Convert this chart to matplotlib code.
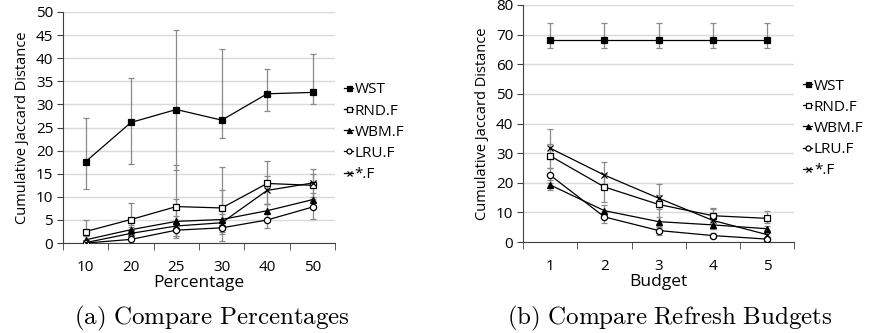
import matplotlib
matplotlib.use('Agg')
import matplotlib.pyplot as plt
import numpy as np

plt.rcParams['font.family'] = 'Open Sans'
plt.rcParams['mathtext.fontset'] = 'cm'

# (a) percentages
pct_labels = ['10', '20', '25', '30', '40', '50']
pct = {
    'WST':   [17.6, 26.1, 28.9, 26.6, 32.3, 32.6],
    'RND.F': [2.5, 5.1, 7.9, 7.6, 12.9, 12.5],
    'WBM.F': [0.7, 2.9, 4.7, 5.1, 7.0, 9.4],
    'LRU.F': [0.0, 0.8, 2.8, 3.3, 5.0, 7.8],
    '*.F':   [0.1, 2.1, 3.7, 4.4, 11.4, 13.0],
}
pct_lo = {
    'WST':   [11.8, 17.2, 15.8, 22.7, 28.5, 30.0],
    'RND.F': [0.2, 2.0, 1.5, 0.5, 8.5, 9.5],
    'WBM.F': [0.0, 2.0, 3.5, 4.0, 5.5, 8.0],
    'LRU.F': [0.0, 0.0, 1.2, 2.5, 3.2, 5.3],
    '*.F':   [0.0, 1.0, 1.5, 2.0, 8.5, 10.0],
}
pct_hi = {
    'WST':   [27.0, 35.8, 46.0, 42.1, 37.6, 40.9],
    'RND.F': [5.1, 8.6, 17.0, 16.4, 17.7, 16.0],
    'WBM.F': [1.5, 4.0, 5.8, 6.2, 8.5, 10.8],
    'LRU.F': [0.3, 1.8, 4.0, 4.5, 6.5, 9.0],
    '*.F':   [0.5, 3.5, 9.5, 11.5, 14.5, 15.0],
}

# (b) refresh budgets
bud_labels = ['1', '2', '3', '4', '5']
bud = {
    'WST':   [68.3, 68.3, 68.3, 68.3, 68.3],
    'RND.F': [29.1, 18.6, 12.7, 8.9, 8.0],
    'WBM.F': [19.3, 10.6, 6.9, 5.8, 4.5],
    'LRU.F': [22.6, 8.5, 3.9, 2.2, 1.0],
    '*.F':   [31.7, 22.6, 14.8, 7.3, 2.5],
}
bud_lo = {
    'WST':   [65.5, 65.5, 65.5, 65.5, 65.5],
    'RND.F': [25.0, 13.5, 3.0, 7.0, 6.5],
    'WBM.F': [17.5, 9.0, 5.5, 4.5, 3.5],
    'LRU.F': [20.0, 6.5, 2.5, 1.5, 0.5],
    '*.F':   [28.0, 18.0, 11.0, 4.5, 1.5],
}
bud_hi = {
    'WST':   [74.0, 74.0, 74.0, 74.0, 74.0],
    'RND.F': [33.0, 23.0, 16.0, 11.0, 10.5],
    'WBM.F': [21.0, 12.5, 8.5, 7.0, 5.5],
    'LRU.F': [25.0, 10.0, 5.0, 3.0, 1.5],
    '*.F':   [38.0, 27.0, 19.6, 11.5, 4.0],
}

styles = {
    'WST':   dict(marker='s', mfc='black', ms=4.5),
    'RND.F': dict(marker='s', mfc='white', ms=4.5),
    'WBM.F': dict(marker='^', mfc='black', ms=4.5),
    'LRU.F': dict(marker='o', mfc='white', ms=4.5),
    '*.F':   dict(marker='x', mfc='black', ms=4.5),
}


def draw(ax, labels, vals, lo, hi, ymax, ystep, xlabel, legend_y):
    x = np.arange(len(labels))
    handles = []
    for name in vals:
        v = np.array(vals[name])
        yerr = [v - np.array(lo[name]), np.array(hi[name]) - v]
        ax.errorbar(x, v, yerr=yerr, fmt='none', ecolor='#8a8a8a',
                    elinewidth=0.9, capsize=2, capthick=0.9, zorder=2)
        h, = ax.plot(x, v, color='black', lw=0.9, mec='black', mew=0.9,
                     zorder=3, **styles[name])
        handles.append(h)
    ax.set_xlim(-0.5, len(labels) - 0.5)
    ax.set_ylim(0, ymax)
    ax.set_yticks(np.arange(0, ymax + 1, ystep))
    ax.set_xticks(x)
    ax.set_xticklabels(labels)
    ax.set_xticks(np.arange(len(labels) + 1) - 0.5, minor=True)
    ax.tick_params(axis='x', which='major', length=0, pad=12, labelsize=11)
    ax.tick_params(axis='x', which='minor', length=5, color='#404040')
    ax.tick_params(axis='y', length=4, color='#404040', labelsize=11, pad=3)
    ax.yaxis.grid(True, color='#d9d9d9', lw=1)
    ax.set_axisbelow(True)
    for s in ['top', 'right']:
        ax.spines[s].set_visible(False)
    for s in ['left', 'bottom']:
        ax.spines[s].set_color('#404040')
    ax.set_xlabel(xlabel, fontsize=12.5, labelpad=0)
    ax.set_ylabel('Cumulative Jaccard Distance', fontsize=10.5, labelpad=4)
    ax.legend(handles, list(vals.keys()), loc='center left',
              bbox_to_anchor=(1.01, legend_y), frameon=False, fontsize=11,
              handlelength=0.6, handletextpad=0.1, labelspacing=0.4,
              borderaxespad=0, markerscale=0.8)
    return ax


fig = plt.figure(figsize=(8.73, 3.33), dpi=100)
ax1 = fig.add_axes([0.072, 0.27, 0.312, 0.694])
ax2 = fig.add_axes([0.599, 0.273, 0.311, 0.712])

draw(ax1, pct_labels, pct, pct_lo, pct_hi, 50, 5, 'Percentage', 0.48)
draw(ax2, bud_labels, bud, bud_lo, bud_hi, 80, 10, 'Budget', 0.48)

fig.text(0.243, 0.026, r'$\mathrm{(a)\ Compare\ Percentages}$', ha='center', fontsize=18)
fig.text(0.767, 0.026, r'$\mathrm{(b)\ Compare\ Refresh\ Budgets}$', ha='center', fontsize=18)

fig.savefig('out.png', dpi=100)
